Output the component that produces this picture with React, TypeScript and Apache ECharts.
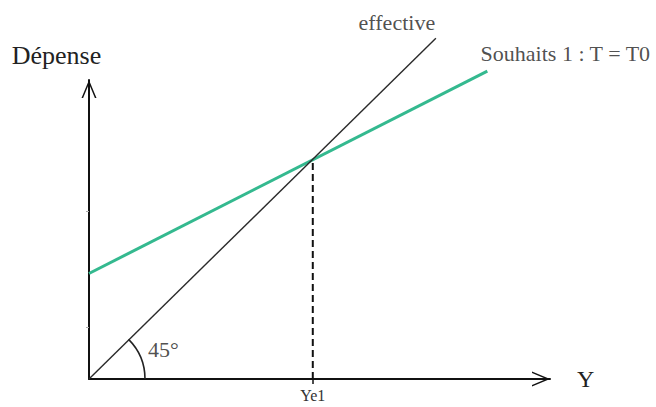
import React, { useEffect, useRef } from "react";
import * as echarts from "echarts";

// ---- data (in axis units) ----
const xMax = 10.3;
const yMax = 6.8;
const ye1 = 5;
const effectiveLine = [
  [0, 0],
  [7.75, 7.75],
];
const souhaitsLine = [
  [0, 2.4],
  [8.9, 7.0],
];
const equilibriumLine = [
  [ye1, 0],
  [ye1, 5],
];
const lineNames = ["effective", "Souhaits 1 : T = T0"];
const xTickLabels = ["Ye1"];
const yFaintTicks = [1.18, 3.82];
const angleOrigin = [0, 0];
const angleText = "45°";
const angleTextPos = [1.66, 0.66];
const xName = "Y";
const yName = "Dépense";

const FONT = "Liberation Serif";
const ARROW = "path://M0,90 L37.5,0 L75,90 L67,90 L37.5,19 L8,90 Z";

export default function App() {
  const ref = useRef<HTMLDivElement>(null);
  useEffect(() => {
    if (!ref.current) return;
    const chart = echarts.init(ref.current, undefined, { renderer: "svg" });
    const axisLine = {
      show: true,
      symbol: ["none", ARROW],
      symbolSize: [15, 18],
      symbolOffset: [0, -9],
      lineStyle: { color: "#111", width: 2 },
    };
    const textBase = { fontFamily: FONT, color: "#222" };
    chart.setOption({
      animation: false,
      backgroundColor: "#fff",
      textStyle: { fontFamily: FONT },
      grid: {
        left: 89,
        right: 106,
        top: 80,
        bottom: 28,
        containLabel: false,
        outerBoundsMode: "none",
      },
      xAxis: {
        type: "value",
        min: 0,
        max: xMax,
        axisLine,
        splitLine: { show: false },
        axisTick: {
          show: true,
          customValues: [ye1],
          length: 5,
          lineStyle: { color: "#111", width: 1.5 },
        },
        axisLabel: {
          show: true,
          customValues: [ye1],
          formatter: () => xTickLabels[0],
          margin: 8,
          fontFamily: FONT,
          fontSize: 16,
          color: "#333",
        },
        name: xName,
        nameLocation: "end",
        nameGap: 27,
        nameTextStyle: {
          ...textBase,
          fontSize: 24,
          padding: [28, 0, 0, 0],
        },
      },
      yAxis: {
        type: "value",
        min: 0,
        max: yMax,
        axisLine,
        splitLine: { show: false },
        axisTick: {
          show: true,
          customValues: yFaintTicks,
          length: 3,
          lineStyle: { color: "#aaa", width: 1 },
        },
        axisLabel: { show: false },
        name: yName,
        nameLocation: "end",
        nameGap: 12,
        nameTextStyle: {
          ...textBase,
          fontSize: 26,
          padding: [0, 65, 0, 0],
        },
      },
      series: [
        {
          type: "line",
          name: lineNames[0],
          data: effectiveLine,
          symbol: "none",
          clip: false,
          silent: true,
          lineStyle: { color: "#2a2a2a", width: 1.4 },
          z: 3,
        },
        {
          type: "line",
          name: lineNames[1],
          data: souhaitsLine,
          symbol: "none",
          clip: false,
          silent: true,
          lineStyle: { color: "#34b98f", width: 3 },
          z: 2,
        },
        {
          type: "line",
          data: equilibriumLine,
          symbol: "none",
          clip: false,
          silent: true,
          lineStyle: { color: "#111", width: 2, type: [7, 4] },
          z: 2,
        },
        {
          type: "custom",
          coordinateSystem: "cartesian2d",
          silent: true,
          clip: false,
          data: [angleOrigin],
          renderItem: (params: any, api: any) => {
            const p = api.coord([api.value(0), api.value(1)]);
            return {
              type: "arc",
              shape: {
                cx: p[0],
                cy: p[1],
                r: 56,
                startAngle: -Math.PI / 4,
                endAngle: 0,
                clockwise: true,
              },
              style: { stroke: "#222", lineWidth: 1.6, fill: null },
            };
          },
          z: 4,
        },
        {
          type: "scatter",
          silent: true,
          clip: false,
          symbolSize: 0,
          label: {
            show: true,
            position: "inside",
            ...textBase,
            fontSize: 22,
          },
          data: [
            {
              value: effectiveLine[1],
              label: { ...textBase, fontSize: 22, formatter: lineNames[0], offset: [-39, -16] },
            },
            {
              value: souhaitsLine[1],
              label: { ...textBase, fontSize: 22, formatter: lineNames[1], offset: [78, -18] },
            },
            {
              value: angleTextPos,
              label: { ...textBase, fontSize: 22, formatter: angleText },
            },
          ],
          z: 5,
        },
      ],
    });
    return () => chart.dispose();
  }, []);
  return (
    <div
      ref={ref}
      style={{ position: "fixed", left: 0, top: 0, width: 656, height: 407 }}
    />
  );
}
